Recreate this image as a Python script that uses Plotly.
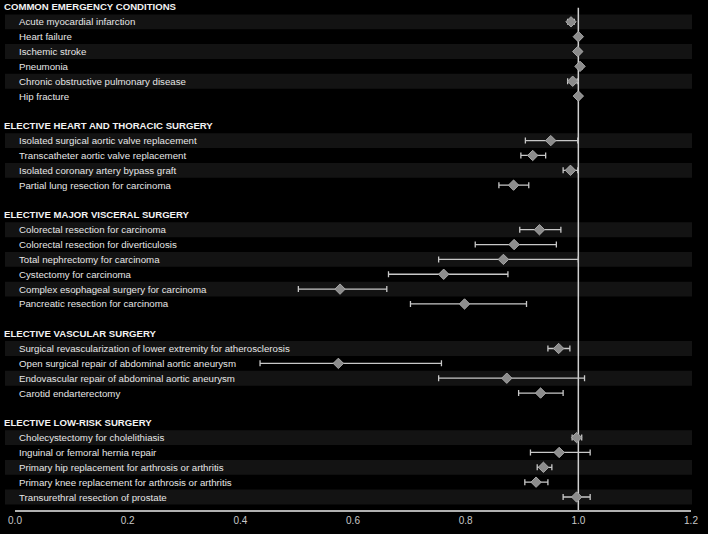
import plotly.graph_objects as go

sections = [
    "COMMON EMERGENCY CONDITIONS",
    "ELECTIVE HEART AND THORACIC SURGERY",
    "ELECTIVE MAJOR VISCERAL SURGERY",
    "ELECTIVE VASCULAR SURGERY",
    "ELECTIVE LOW-RISK SURGERY",
]
items = [
    ["Acute myocardial infarction", "Heart failure", "Ischemic stroke", "Pneumonia",
     "Chronic obstructive pulmonary disease", "Hip fracture"],
    ["Isolated surgical aortic valve replacement", "Transcatheter aortic valve replacement",
     "Isolated coronary artery bypass graft", "Partial lung resection for carcinoma"],
    ["Colorectal resection for carcinoma", "Colorectal resection for diverticulosis",
     "Total nephrectomy for carcinoma", "Cystectomy for carcinoma",
     "Complex esophageal surgery for carcinoma", "Pancreatic resection for carcinoma"],
    ["Surgical revascularization of lower extremity for atherosclerosis",
     "Open surgical repair of abdominal aortic aneurysm",
     "Endovascular repair of abdominal aortic aneurysm", "Carotid endarterectomy"],
    ["Cholecystectomy for cholelithiasis", "Inguinal or femoral hernia repair",
     "Primary hip replacement for arthrosis or arthritis",
     "Primary knee replacement for arthrosis or arthritis",
     "Transurethral resection of prostate"],
]
estimate = [
    [0.987, 1.000, 0.999, 1.003, 0.990, 1.000],
    [0.951, 0.919, 0.986, 0.885],
    [0.931, 0.886, 0.867, 0.761, 0.577, 0.798],
    [0.965, 0.574, 0.873, 0.933],
    [0.997, 0.966, 0.938, 0.925, 0.997],
]
lower = [
    [0.981, 0.997, 0.996, 0.999, 0.981, 0.997],
    [0.906, 0.898, 0.973, 0.859],
    [0.896, 0.817, 0.752, 0.663, 0.503, 0.702],
    [0.946, 0.435, 0.752, 0.894],
    [0.989, 0.915, 0.927, 0.905, 0.973],
]
upper = [
    [0.993, 1.003, 1.002, 1.007, 0.998, 1.003],
    [0.999, 0.942, 0.999, 0.912],
    [0.969, 0.961, 1.000, 0.875, 0.660, 0.908],
    [0.985, 0.757, 1.011, 0.973],
    [1.006, 1.021, 0.953, 0.946, 1.021],
]
x_ticks = [0.0, 0.2, 0.4, 0.6, 0.8, 1.0, 1.2]

# layout constants
PX_LEFT, PX_RIGHT, W = 15, 691, 708
plot_w = PX_RIGHT - PX_LEFT

def px_to_paper(px):
    return (px - PX_LEFT) / plot_w

ys, xs, lo, hi = [], [], [], []
annotations, shapes = [], []
row = 0
for s, name in enumerate(sections):
    if s > 0:
        row += 1  # blank row
    annotations.append(dict(x=px_to_paper(2), y=row, xref="paper", yref="y", text="<b>" + name + "</b>",
                            showarrow=False, xanchor="left", yanchor="middle",
                            font=dict(family="Liberation Sans, Arial", size=9.6, color="#f2f2f2")))
    row += 1
    for k, it in enumerate(items[s]):
        if k % 2 == 0:
            shapes.append(dict(type="rect", xref="paper", yref="y", x0=px_to_paper(5), x1=px_to_paper(692),
                               y0=row - 0.5, y1=row + 0.5, fillcolor="#131313", line=dict(width=0),
                               layer="below"))
        annotations.append(dict(x=px_to_paper(17), y=row, xref="paper", yref="y", text=it,
                                showarrow=False, xanchor="left", yanchor="middle",
                                font=dict(family="Liberation Sans, Arial", size=9.7, color="#e6e6e6")))
        ys.append(row)
        xs.append(estimate[s][k])
        lo.append(estimate[s][k] - lower[s][k])
        hi.append(upper[s][k] - estimate[s][k])
        row += 1
last_row = row - 1

shapes.append(dict(type="line", xref="x", yref="y", x0=1.0, x1=1.0, y0=0.05, y1=last_row + 0.875,
                   line=dict(color="#d0d0d0", width=1.5), layer="below"))

fig = go.Figure(go.Scatter(
    x=xs, y=ys, mode="markers",
    marker=dict(symbol="diamond", size=8, color="#8c8c8c", line=dict(color="#a8a8a8", width=1)),
    error_x=dict(type="data", symmetric=False, array=hi, arrayminus=lo,
                 color="#c8c8c8", thickness=1.3, width=3),
    hoverinfo="skip",
))

fig.update_layout(
    width=W, height=534,
    margin=dict(l=PX_LEFT, r=W - PX_RIGHT, t=0, b=24),
    paper_bgcolor="black", plot_bgcolor="black",
    showlegend=False,
    annotations=annotations, shapes=shapes,
    xaxis=dict(range=[0, 1.2], tickvals=x_ticks, ticktext=[f"{v:.1f}" for v in x_ticks],
               showgrid=False, zeroline=False, showline=True, linecolor="#b0b0b0", linewidth=1.5,
               ticks="", tickfont=dict(family="Liberation Sans Narrow, Liberation Sans, Arial", size=10,
                                        color="#c8c8c8")),
    yaxis=dict(range=[last_row + 0.875, -0.47], visible=False, showgrid=False, zeroline=False),
)
fig.write_html("out.html", config={"displayModeBar": False},
               post_script="document.body.style.margin='0';document.body.style.background='black';"
                           "document.body.style.overflow='hidden';")
